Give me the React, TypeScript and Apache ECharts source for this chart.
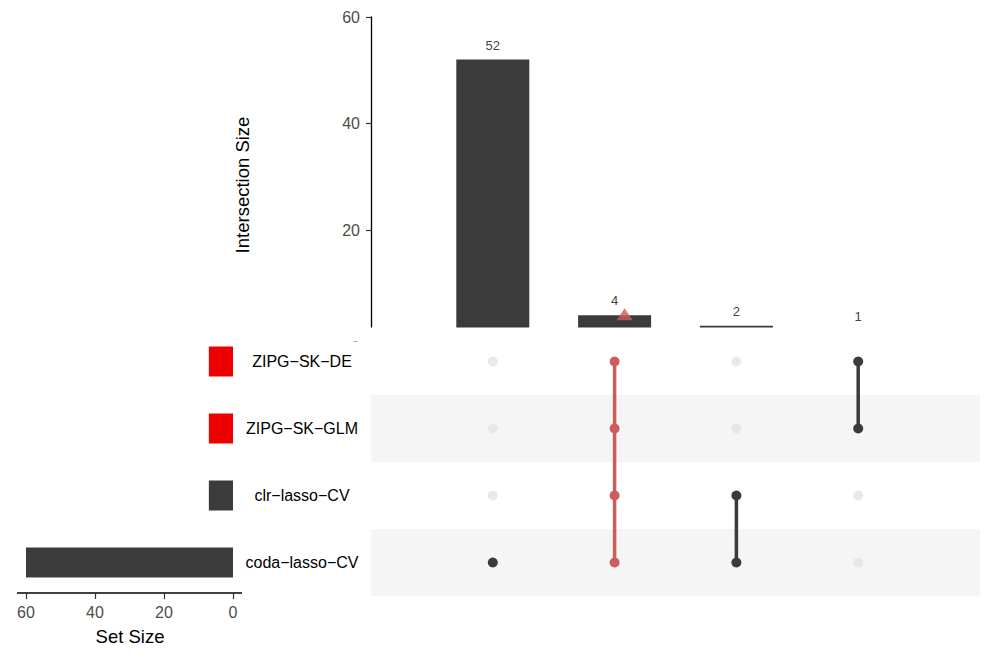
import React, { useEffect, useRef } from 'react';
import * as echarts from 'echarts';

// Sets listed top to bottom as in the matrix
const setNames = ['ZIPG−SK−DE', 'ZIPG−SK−GLM', 'clr−lasso−CV', 'coda−lasso−CV'];
const setSizes = [7, 7, 7, 60];
const setIsHighlighted = [true, true, false, false];

// Intersections, left to right
const intersectionSizes = [52, 4, 2, 1];
const intersectionMembers = [
  ['coda−lasso−CV'],
  ['ZIPG−SK−DE', 'ZIPG−SK−GLM', 'clr−lasso−CV', 'coda−lasso−CV'],
  ['clr−lasso−CV', 'coda−lasso−CV'],
  ['ZIPG−SK−DE', 'ZIPG−SK−GLM'],
];
const queryIndex = 1;

const DARK = '#3b3b3b';
const QUERY = '#cd5c5c';
const SET_RED = '#ee0000';
const EMPTY_DOT = '#e3e3e3';
const FONT = '"Liberation Sans", Arial, Helvetica, sans-serif';

export default function App() {
  const ref = useRef<HTMLDivElement>(null);

  useEffect(() => {
    if (!ref.current) return;
    const chart = echarts.init(ref.current, null, { renderer: 'svg' });

    const emptyCells: [number, string][] = [];
    intersectionMembers.forEach((mem, i) => {
      setNames.forEach((s) => {
        if (!mem.includes(s)) emptyCells.push([i + 1, s]);
      });
    });

    const lineSeries = intersectionMembers.map((mem, i) => {
      const ordered = setNames.filter((s) => mem.includes(s));
      const col = i === queryIndex ? QUERY : DARK;
      return {
        type: 'line',
        xAxisIndex: 1,
        yAxisIndex: 1,
        data: ordered.map((s) => [i + 1, s]),
        symbol: 'circle',
        symbolSize: 10,
        showSymbol: true,
        showAllSymbol: true,
        itemStyle: { color: col },
        lineStyle: { color: col, width: 3.5 },
        z: 5,
        silent: true,
      };
    });

    const option: any = {
      animation: false,
      textStyle: { fontFamily: FONT },
      grid: [
        { left: 371, top: 17, width: 609, height: 319.5 },
        { left: 371, top: 328, width: 609, height: 268 },
        { left: 26, top: 328, width: 207, height: 268 },
      ],
      xAxis: [
        { gridIndex: 0, type: 'value', min: 0, max: 5, show: false },
        { gridIndex: 1, type: 'value', min: 0, max: 5, show: false },
        {
          gridIndex: 2,
          type: 'value',
          min: 0,
          max: 60,
          interval: 20,
          inverse: true,
          offset: -3,
          axisLine: { show: false },
          axisTick: { show: true, length: 6, lineStyle: { color: '#333', width: 1.2 } },
          axisLabel: { fontSize: 16, color: '#4d4d4d', margin: 11, fontFamily: FONT },
          splitLine: { show: false },
        },
      ],
      yAxis: [
        {
          gridIndex: 0,
          type: 'value',
          min: 0,
          max: 60,
          interval: 20,
          axisLine: { show: true, lineStyle: { color: '#000', width: 1.3 } },
          axisTick: { show: true, length: 5, lineStyle: { color: '#333', width: 1.2 } },
          axisLabel: { fontSize: 16, color: '#4d4d4d', margin: 11, fontFamily: FONT },
          splitLine: { show: false },
        },
        {
          gridIndex: 1,
          type: 'category',
          data: setNames,
          inverse: true,
          axisLine: { show: false },
          axisTick: { show: false },
          axisLabel: { align: 'center', margin: 69, fontSize: 16, color: '#000', fontFamily: FONT },
          splitLine: { show: false },
          splitArea: { show: true, areaStyle: { color: ['rgba(0,0,0,0)', '#f5f5f5'] } },
        },
        { gridIndex: 2, type: 'category', data: setNames, inverse: true, show: false },
      ],
      graphic: [
        {
          type: 'rect',
          shape: { x: 300, y: 327.6, width: 697, height: 14 },
          style: { fill: '#fff' },
          z: 3,
          silent: true,
        },
        {
          type: 'line',
          shape: { x1: 17, y1: 593, x2: 242, y2: 593 },
          style: { stroke: '#000', lineWidth: 1.3 },
          silent: true,
        },
        {
          type: 'text',
          x: 242,
          y: 185,
          rotation: Math.PI / 2,
          style: {
            text: 'Intersection Size',
            fontSize: 18.5,
            fill: '#000',
            align: 'center',
            verticalAlign: 'middle',
            fontFamily: FONT,
          },
        },
        {
          type: 'text',
          x: 130,
          y: 636,
          style: {
            text: 'Set Size',
            fontSize: 18.5,
            fill: '#000',
            align: 'center',
            verticalAlign: 'middle',
            fontFamily: FONT,
          },
        },
      ],
      series: [
        {
          type: 'bar',
          xAxisIndex: 0,
          yAxisIndex: 0,
          barWidth: 73,
          data: intersectionSizes.map((v, i) => [i + 1, v]),
          itemStyle: { color: DARK },
          label: {
            show: true,
            position: 'top',
            distance: 8,
            fontSize: 13,
            color: '#444',
            fontFamily: FONT,
            formatter: (p: any) => String(p.value[1]),
          },
          z: 2,
          silent: true,
        },
        {
          type: 'scatter',
          xAxisIndex: 0,
          yAxisIndex: 0,
          data: [[queryIndex + 1, intersectionSizes[queryIndex]]],
          symbol: 'triangle',
          symbolSize: [16, 12],
          symbolOffset: [10, -1],
          itemStyle: { color: QUERY },
          z: 4,
          silent: true,
        },
        {
          type: 'scatter',
          xAxisIndex: 1,
          yAxisIndex: 1,
          data: emptyCells,
          symbol: 'circle',
          symbolSize: 10,
          itemStyle: { color: EMPTY_DOT },
          z: 4,
          silent: true,
        },
        ...lineSeries,
        {
          type: 'bar',
          xAxisIndex: 2,
          yAxisIndex: 2,
          barWidth: 30,
          data: setSizes.map((v, i) => ({
            value: v,
            itemStyle: { color: setIsHighlighted[i] ? SET_RED : DARK },
          })),
          silent: true,
        },
      ],
    };

    chart.setOption(option);
    return () => chart.dispose();
  }, []);

  return (
    <div
      ref={ref}
      style={{ position: 'fixed', left: 0, top: 0, width: 997, height: 664, background: '#fff' }}
    />
  );
}
